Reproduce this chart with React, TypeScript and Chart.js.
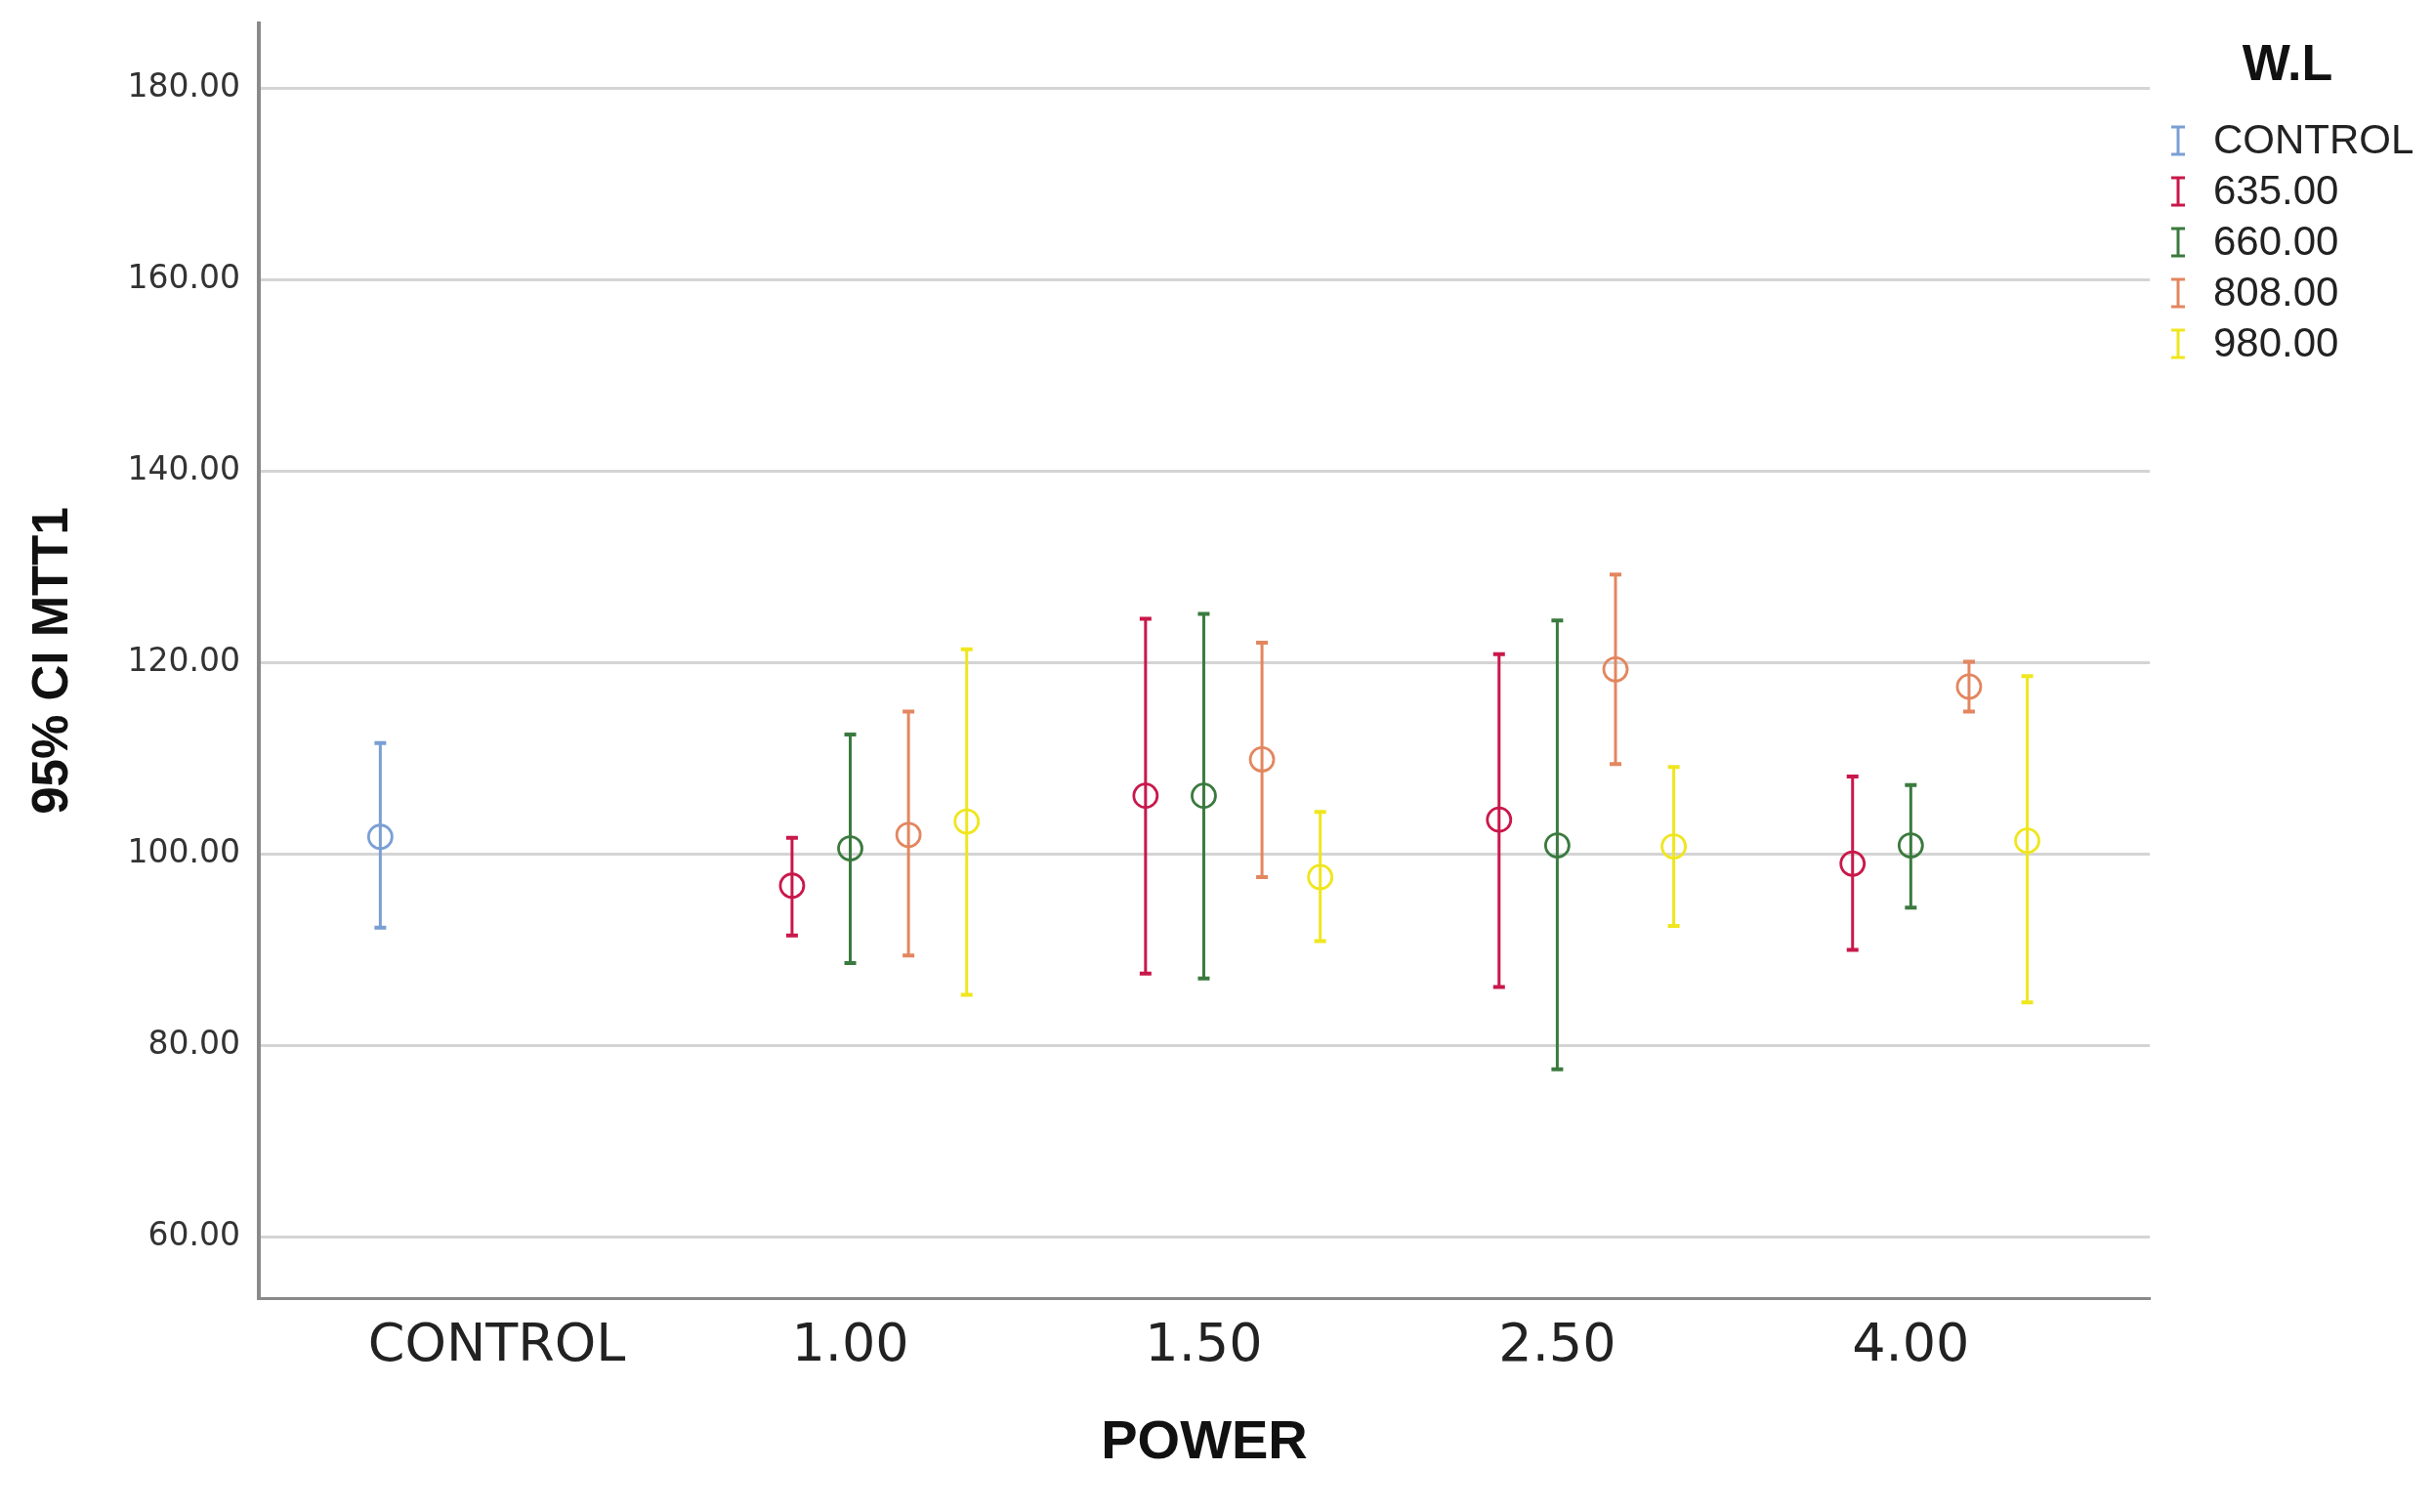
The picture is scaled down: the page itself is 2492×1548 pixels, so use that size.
import React, { useEffect, useRef } from "react";
import { Chart, registerables } from "chart.js";

Chart.register(...registerables);

// Categories (x axis) and series (legend)
const categories = ["CONTROL", "1.00", "1.50", "2.50", "4.00"];
const seriesNames = ["CONTROL", "635.00", "660.00", "808.00", "980.00"];
const seriesColors = ["#7a9fd4", "#c9184a", "#3b7a3f", "#e3865f", "#efe61e"];
const yTicks = [60, 80, 100, 120, 140, 160, 180];

// Means and 95% CI bounds per category (null = no data)
const meanControl = [101.8, null, null, null, null];
const lowControl = [92.3, null, null, null, null];
const highControl = [111.6, null, null, null, null];

const mean635 = [null, 96.7, 106.1, 103.6, 99.0];
const low635 = [null, 91.5, 87.5, 86.1, 90.0];
const high635 = [null, 101.7, 124.6, 120.9, 108.1];

const mean660 = [null, 100.6, 106.1, 100.9, 100.9];
const low660 = [null, 88.6, 87.0, 77.5, 94.4];
const high660 = [null, 112.5, 125.1, 124.4, 107.2];

const mean808 = [null, 102.0, 109.9, 119.3, 117.5];
const low808 = [null, 89.4, 97.6, 109.4, 114.9];
const high808 = [null, 114.9, 122.1, 129.2, 120.1];

const mean980 = [null, 103.4, 97.6, 100.8, 101.4];
const low980 = [null, 85.3, 90.9, 92.5, 84.5];
const high980 = [null, 121.4, 104.4, 109.1, 118.6];

const seriesMeans = [meanControl, mean635, mean660, mean808, mean980];
const seriesLows = [lowControl, low635, low660, low808, low980];
const seriesHighs = [highControl, high635, high660, high808, high980];

const SLOT = 0.1647; // cluster slot width in category units

const errorBarPlugin = {
  id: "errorBars",
  beforeDatasetsDraw(chart: any) {
    const { ctx } = chart;
    const xs = chart.scales.x;
    const ys = chart.scales.y;
    chart.data.datasets.forEach((ds: any) => {
      ds.data.forEach((d: any) => {
        const px = xs.getPixelForValue(d.x);
        const yLo = ys.getPixelForValue(d.lo);
        const yHi = ys.getPixelForValue(d.hi);
        ctx.save();
        ctx.strokeStyle = ds.borderColor;
        ctx.lineWidth = 3;
        ctx.beginPath();
        ctx.moveTo(px, yHi);
        ctx.lineTo(px, yLo);
        ctx.stroke();
        ctx.lineWidth = 4;
        ctx.beginPath();
        ctx.moveTo(px - 6, yHi);
        ctx.lineTo(px + 6, yHi);
        ctx.moveTo(px - 6, yLo);
        ctx.lineTo(px + 6, yLo);
        ctx.stroke();
        ctx.restore();
      });
    });
  },
};

const legendPlugin = {
  id: "customLegend",
  afterDraw(chart: any) {
    const { ctx } = chart;
    ctx.save();
    ctx.fillStyle = "#111";
    ctx.textAlign = "center";
    ctx.textBaseline = "middle";
    ctx.font = "bold 52px 'Liberation Sans', Arial, sans-serif";
    ctx.fillText("W.L", 2342, 68);
    const startY = 144;
    const step = 52;
    seriesNames.forEach((name, i) => {
      const y = startY + i * step;
      const x = 2230;
      ctx.strokeStyle = seriesColors[i];
      ctx.lineWidth = 3;
      ctx.beginPath();
      ctx.moveTo(x, y - 14);
      ctx.lineTo(x, y + 14);
      ctx.moveTo(x - 7, y - 14);
      ctx.lineTo(x + 7, y - 14);
      ctx.moveTo(x - 7, y + 14);
      ctx.lineTo(x + 7, y + 14);
      ctx.stroke();
      ctx.fillStyle = "#222";
      ctx.textAlign = "left";
      ctx.font = "42px 'Liberation Sans', Arial, sans-serif";
      ctx.fillText(name, 2266, y + 1);
    });
    ctx.restore();
  },
};

export default function App() {
  const canvasRef = useRef<HTMLCanvasElement | null>(null);

  useEffect(() => {
    if (!canvasRef.current) return;
    const datasets = seriesNames.map((name, s) => {
      const data: any[] = [];
      categories.forEach((_, i) => {
        const m = seriesMeans[s][i];
        if (m === null || m === undefined) return;
        data.push({
          x: i + (s - 2) * SLOT,
          y: m,
          lo: seriesLows[s][i],
          hi: seriesHighs[s][i],
        });
      });
      return {
        label: name,
        data,
        borderColor: seriesColors[s],
        backgroundColor: "rgba(0,0,0,0)",
        pointStyle: "circle",
        pointRadius: 12,
        pointHoverRadius: 12,
        pointBorderWidth: 2.8,
        pointBackgroundColor: "rgba(0,0,0,0)",
        pointBorderColor: seriesColors[s],
        showLine: false,
      };
    });

    const chart = new Chart(canvasRef.current, {
      type: "scatter",
      data: { datasets },
      options: {
        animation: false,
        responsive: false,
        devicePixelRatio: 1,
        layout: { padding: { top: 24, right: 291, left: 0, bottom: 0 } },
        plugins: {
          legend: { display: false },
          tooltip: { enabled: false },
        },
        scales: {
          x: {
            type: "linear",
            min: -0.673,
            max: 4.676,
            afterBuildTicks: (s: any) => {
              s.ticks = categories.map((_, i) => ({ value: i }));
            },
            afterFit: (s: any) => {
              s.height = 219;
            },
            ticks: {
              callback: (v: any) => categories[Math.round(Number(v))] ?? "",
              font: { family: "'DejaVu Sans', sans-serif", size: 54 },
              color: "#222",
              padding: 18,
              autoSkip: false,
              maxRotation: 0,
            },
            grid: { display: false, drawTicks: false },
            border: { display: true, color: "#8a8a8a", width: 3 },
            title: {
              display: true,
              text: "POWER",
              font: { family: "'Liberation Sans', Arial, sans-serif", size: 56, weight: "bold" },
              color: "#111",
              padding: { top: 0, bottom: 37 },
            },
          },
          y: {
            min: 53.6,
            max: 186.8,
            afterBuildTicks: (s: any) => {
              s.ticks = yTicks.map((v) => ({ value: v }));
            },
            afterFit: (s: any) => {
              s.width = 265;
            },
            ticks: {
              callback: (v: any) => Number(v).toFixed(2),
              font: { family: "'DejaVu Sans', sans-serif", size: 33, lineHeight: 0.2 },
              color: "#333",
              padding: 19,
            },
            grid: { color: "#d4d4d4", lineWidth: 3, drawTicks: false },
            border: { display: true, color: "#8a8a8a", width: 4 },
            title: {
              display: true,
              text: "95% CI MTT1",
              font: { family: "'Liberation Sans', Arial, sans-serif", size: 51, weight: "bold" },
              color: "#111",
              padding: { top: 24, bottom: 0 },
            },
          },
        },
      } as any,
      plugins: [errorBarPlugin, legendPlugin],
    });
    return () => chart.destroy();
  }, []);

  return (
    <div style={{ position: "absolute", left: 0, top: 0, width: 2492, height: 1548, background: "#fff" }}>
      <canvas ref={canvasRef} width={2492} height={1548} style={{ display: "block" }} />
    </div>
  );
}
